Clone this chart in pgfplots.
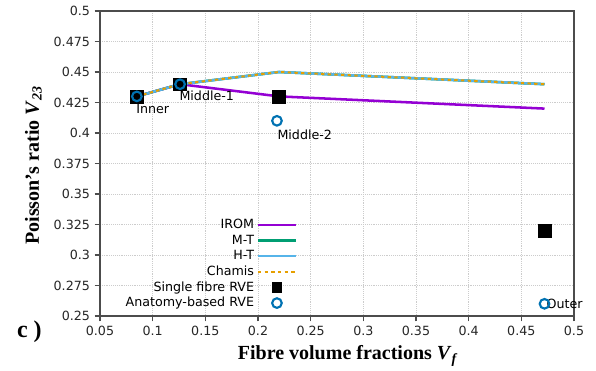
\documentclass[border=0pt]{standalone}
\usepackage{fontspec}
\setmainfont{Liberation Serif}
\newfontfamily\dejavu{DejaVu Sans}
\usepackage{pgfplots}
\pgfplotsset{compat=1.18}
\definecolor{irom}{RGB}{148,0,211}
\definecolor{mt}{RGB}{0,158,115}
\definecolor{ht}{RGB}{86,180,233}
\definecolor{chamis}{RGB}{230,159,0}
\definecolor{anat}{RGB}{0,114,178}
\pgfplotsset{
  lineleg/.style={legend image code/.code={\draw[##1] (0cm,0cm) -- (1cm,0cm);}},
  sqleg/.style={legend image code/.code={\draw[##1, mark size=3.6pt] plot coordinates {(0.5cm,0cm)};}},
  cirleg/.style={legend image code/.code={\draw[##1] plot coordinates {(0.5cm,0cm)};}},
}
\begin{document}
\begin{tikzpicture}
\path[use as bounding box] (-75pt,-41.25pt) rectangle (372pt,237pt);
\begin{axis}[
  at={(0,0)}, anchor=south west,
  scale only axis, width=355.5pt, height=228.75pt,
  xmin=0.05, xmax=0.5, ymin=0.25, ymax=0.5,
  clip=false,
  xtick={0.05,0.1,...,0.51}, ytick={0.25,0.275,...,0.51},
  xticklabel style={/pgf/number format/.cd, fixed, precision=2},
  yticklabel style={/pgf/number format/.cd, fixed, precision=3},
  /pgf/number format/assume math mode=true,
  tick label style={font=\dejavu\fontsize{9.5}{11}\selectfont, black!85},
  grid=major, major grid style={densely dotted, gray!40},
  axis line style={black!70, line width=0.9pt},
  tick style={black!70, line width=0.8pt},
  tick align=outside, major tick length=4pt,
  xtick pos=left, ytick pos=left,
  legend plot pos=right, legend cell align=right,
  legend style={draw=none, fill=none, font=\dejavu\fontsize{9.5}{11}\selectfont,
    at={(rel axis cs:0.425,0.005)}, anchor=south east, row sep=-0.9pt},
]
\addplot[irom, line width=1.9pt, no marks, lineleg] coordinates {(0.085,0.43) (0.126,0.44) (0.22,0.43) (0.472,0.42)};
\addlegendentry{IROM}
\addplot[mt, line width=1.9pt, no marks, lineleg] coordinates {(0.085,0.43) (0.126,0.44) (0.22,0.45) (0.472,0.44)};
\addlegendentry{M-T}
\addplot[ht, line width=1.9pt, no marks, lineleg] coordinates {(0.085,0.43) (0.126,0.44) (0.22,0.45) (0.472,0.44)};
\addlegendentry{H-T}
\addplot[chamis, line width=1.5pt, dash pattern=on 2.5pt off 2.5pt, no marks, lineleg] coordinates {(0.085,0.43) (0.126,0.44) (0.22,0.45) (0.472,0.44)};
\addlegendentry{Chamis}
\addplot[only marks, mark=square*, mark size=4.8pt, black, sqleg]
  coordinates {(0.085,0.43) (0.126,0.44) (0.22,0.43) (0.472,0.32)};
\addlegendentry{Single fibre RVE}
\addplot[only marks, mark=o, mark size=3.6pt, anat, line width=1.6pt, cirleg]
  coordinates {(0.085,0.43) (0.126,0.44) (0.218,0.41) (0.472,0.26)};
\addlegendentry{Anatomy-based RVE}
\node[font=\dejavu\fontsize{9.5}{11}\selectfont, anchor=north west, inner sep=1pt] at (axis cs:0.083,0.425) {Inner};
\node[font=\dejavu\fontsize{9.5}{11}\selectfont, anchor=north west, inner sep=1pt] at (axis cs:0.124,0.436) {Middle-1};
\node[font=\dejavu\fontsize{9.5}{11}\selectfont, anchor=north west, inner sep=1pt] at (axis cs:0.217,0.404) {Middle-2};
\node[font=\dejavu\fontsize{9.5}{11}\selectfont, anchor=west, inner sep=1pt] at (axis cs:0.4725,0.26) {Outer};
\end{axis}
\node[font=\bfseries\fontsize{15}{18}\selectfont] at (186pt,-30pt) {Fibre volume fractions \textit{V}\textsubscript{\textit{f}}};
\node[font=\bfseries\fontsize{15}{18}\selectfont, rotate=90] at (-50pt,113pt) {Poisson's ratio \textit{V}\textsubscript{\textit{23}}};
\node[font=\bfseries\fontsize{18}{20}\selectfont] at (-53pt,-12pt) {c )};
\end{tikzpicture}
\end{document}
